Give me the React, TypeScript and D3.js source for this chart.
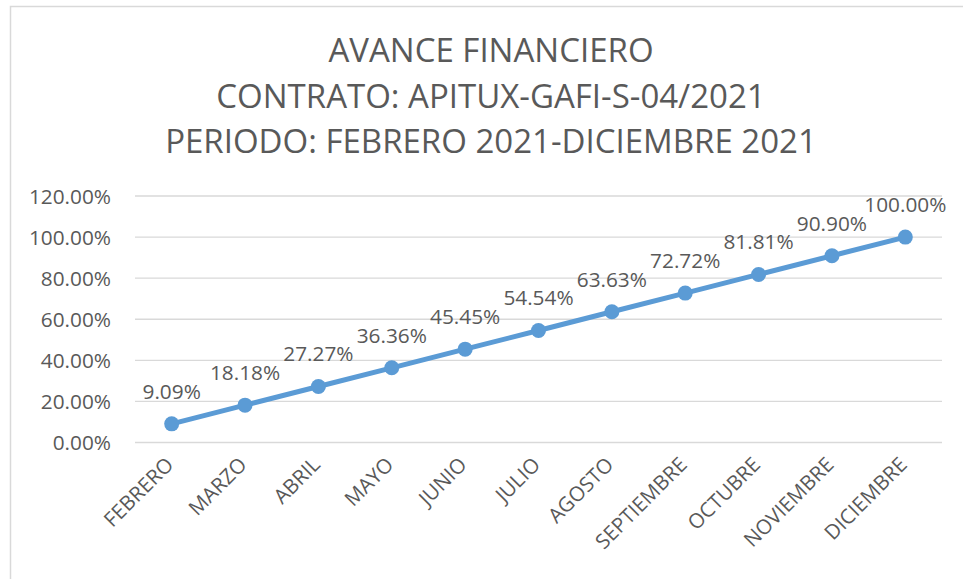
import React from "react";
import * as d3 from "d3";

const categories = ["FEBRERO","MARZO","ABRIL","MAYO","JUNIO","JULIO","AGOSTO","SEPTIEMBRE","OCTUBRE","NOVIEMBRE","DICIEMBRE"];
const values = [9.09,18.18,27.27,36.36,45.45,54.54,63.63,72.72,81.81,90.90,100.0];
const yTicks = [0,20,40,60,80,100,120];
const titleLines = ["AVANCE FINANCIERO","CONTRATO: APITUX-GAFI-S-04/2021","PERIODO: FEBRERO 2021-DICIEMBRE 2021"];

const W = 963, H = 579;
const FONT = "'Open Sans', sans-serif";
const TXT = "#595959";
const BLUE = "#5B9BD5";

export default function App() {
  const x = d3.scaleBand<string>().domain(categories).range([135, 942]);
  const y = d3.scaleLinear().domain([0, 120]).range([442.5, 196]);
  const cx = (c: string) => (x(c) as number) + x.bandwidth() / 2;
  const line = d3.line<number>().x((_, i) => cx(categories[i])).y(v => y(v));
  return (
    <svg width={W} height={H} style={{ position: "absolute", left: 0, top: 0, background: "#fff" }} fontFamily={FONT}>
      <rect x={0} y={0} width={W} height={H} fill="#fff" />
      <rect x={10.5} y={6.5} width={962} height={600} fill="none" stroke="#D9D9D9" strokeWidth={1.5} />
      {titleLines.map((t, i) => (
        <text key={i} x={491} y={62 + i * 45.5} textAnchor="middle" fontSize={33} fill={TXT}>{t}</text>
      ))}
      {yTicks.map(t => (
        <g key={t}>
          <line x1={135} x2={942} y1={y(t)} y2={y(t)} stroke="#D9D9D9" strokeWidth={1.3} />
          <text x={111} y={y(t) + 7.5} textAnchor="end" fontSize={20.8} fill={TXT}>{d3.format(".2f")(t)}%</text>
        </g>
      ))}
      {categories.map(c => (
        <text key={c} transform={`translate(${cx(c) + 3},${466}) rotate(-45)`} textAnchor="end" fontSize={20.5} fill={TXT}>{c}</text>
      ))}
      <path d={line(values) || ""} fill="none" stroke={BLUE} strokeWidth={5} strokeLinejoin="round" />
      {values.map((v, i) => (
        <circle key={i} cx={cx(categories[i])} cy={y(v)} r={7.5} fill={BLUE} />
      ))}
      {values.map((v, i) => (
        <text key={i} x={cx(categories[i])} y={y(v) - 25} textAnchor="middle" fontSize={20.8} fill={TXT}>{d3.format(".2f")(v)}%</text>
      ))}
    </svg>
  );
}
